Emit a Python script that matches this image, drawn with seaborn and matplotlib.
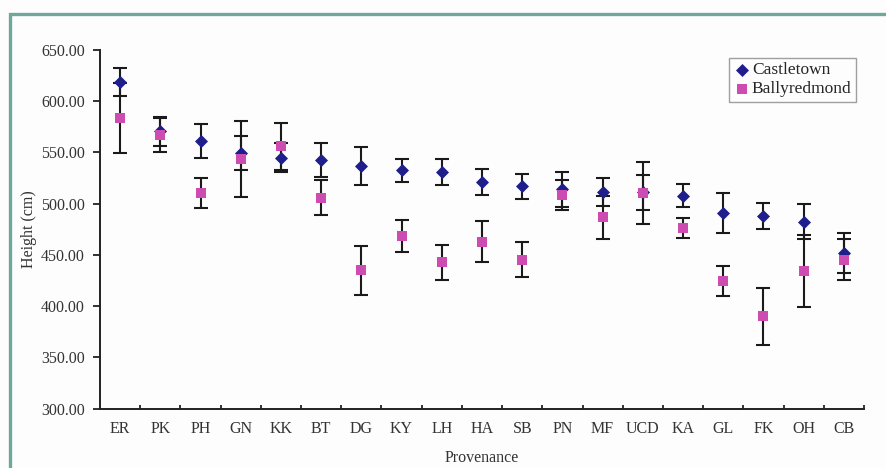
import pandas as pd
import seaborn as sns
import matplotlib.pyplot as plt
from matplotlib.patches import Rectangle
from matplotlib.ticker import FixedLocator, FormatStrFormatter

provenance = ['ER', 'PK', 'PH', 'GN', 'KK', 'BT', 'DG', 'KY', 'LH', 'HA',
              'SB', 'PN', 'MF', 'UCD', 'KA', 'GL', 'FK', 'OH', 'CB']
castletown = [619, 570.5, 561, 549.5, 545, 543, 537, 532.5, 531, 521.5,
              517, 514, 511.5, 511, 508, 490.5, 488, 482.5, 452]
castletown_err = [13.5, 14, 16.5, 16.3, 14, 16.5, 18.5, 11.5, 13, 12.7,
                  12.2, 16.8, 14, 17.5, 11.2, 19.5, 13, 17, 19.5]
ballyredmond = [583.5, 567, 510.5, 543.5, 556, 506, 435, 468.5, 443, 463,
                445.5, 508.5, 487, 510.5, 476, 424.5, 390, 434.5, 445.5]
ballyredmond_err = [34.4, 17, 14.7, 37, 23, 17, 24, 16, 17, 19.7,
                    17.4, 14.7, 21, 30, 9.8, 15, 28, 35.2, 19.8]

df = pd.DataFrame({
    'Provenance': provenance * 2,
    'Height': castletown + ballyredmond,
    'err': castletown_err + ballyredmond_err,
    'Site': ['Castletown'] * len(provenance) + ['Ballyredmond'] * len(provenance),
})

sns.set_style('white')
plt.rcParams['font.family'] = ['Liberation Serif', 'DejaVu Serif']

fig = plt.figure(figsize=(8.87, 4.68), dpi=100, facecolor='#fdfdfd')
ax = fig.add_axes([100 / 887, 1 - 408.7 / 468, 764 / 887, 358.7 / 468])
ax.set_facecolor('#fdfdfd')

xpos = {p: i for i, p in enumerate(provenance)}
df['x'] = df['Provenance'].map(xpos)

# error bars first, markers on top
ax.errorbar(df['x'], df['Height'], yerr=df['err'], fmt='none', ecolor='#1a1a1a',
            elinewidth=1.5, capsize=4.8, capthick=1.5, zorder=2)

styles = {'Castletown': ('D', '#1e1e8c', 44), 'Ballyredmond': ('s', '#cc4cb2', 60)}
for site, (mk, col, sz) in styles.items():
    sub = df[df['Site'] == site]
    sns.scatterplot(data=sub, x='x', y='Height', marker=mk, color=col, s=sz,
                    edgecolor=col, linewidth=0, label=site, ax=ax, zorder=3)

ax.set_xlim(-0.5, len(provenance) - 0.5)
ax.set_ylim(300, 650)
ax.set_yticks(range(300, 651, 50))
ax.yaxis.set_major_formatter(FormatStrFormatter('%.2f'))
ax.set_xticks(range(len(provenance)))
ax.set_xticklabels(provenance)
ax.xaxis.set_minor_locator(FixedLocator([i + 0.5 for i in range(len(provenance))]))
ax.tick_params(axis='x', which='major', length=0, pad=9, labelsize=11.5, colors='#333333')
ax.tick_params(axis='x', which='minor', direction='in', length=3, width=1.3,
               color='#222222', bottom=True)
ax.tick_params(axis='y', direction='out', length=5, width=1.3, color='#222222',
               pad=6, labelsize=11.5, labelcolor='#333333', left=True)

for side in ['top', 'right']:
    ax.spines[side].set_visible(False)
for side in ['left', 'bottom']:
    ax.spines[side].set_color('#222222')
    ax.spines[side].set_linewidth(1.4)

ax.set_xlabel('Provenance', fontsize=11.5, color='#333333')
ax.set_ylabel('Height (cm)', fontsize=11.5, color='#333333')
ax.xaxis.set_label_coords(0.5, -0.115)
ax.yaxis.set_label_coords(-0.083, 0.5)

leg = ax.legend(loc='upper right', bbox_to_anchor=(0.9895, 0.9777), borderaxespad=0,
                fontsize=12.5, frameon=True, fancybox=False, edgecolor='#888888',
                handletextpad=0.05, handlelength=1.0, borderpad=0.25, labelspacing=0.15,
                markerscale=1.0)
leg.get_frame().set_linewidth(1.0)
leg.get_frame().set_facecolor('#fdfdfd')

fig.patches.append(Rectangle((10 / 887, -0.1), 1.2, 1.1 - 14 / 468, transform=fig.transFigure,
                             fill=False, edgecolor='#6fa79b', linewidth=2.4, clip_on=False))

fig.savefig('out.png', dpi=100, facecolor=fig.get_facecolor())
